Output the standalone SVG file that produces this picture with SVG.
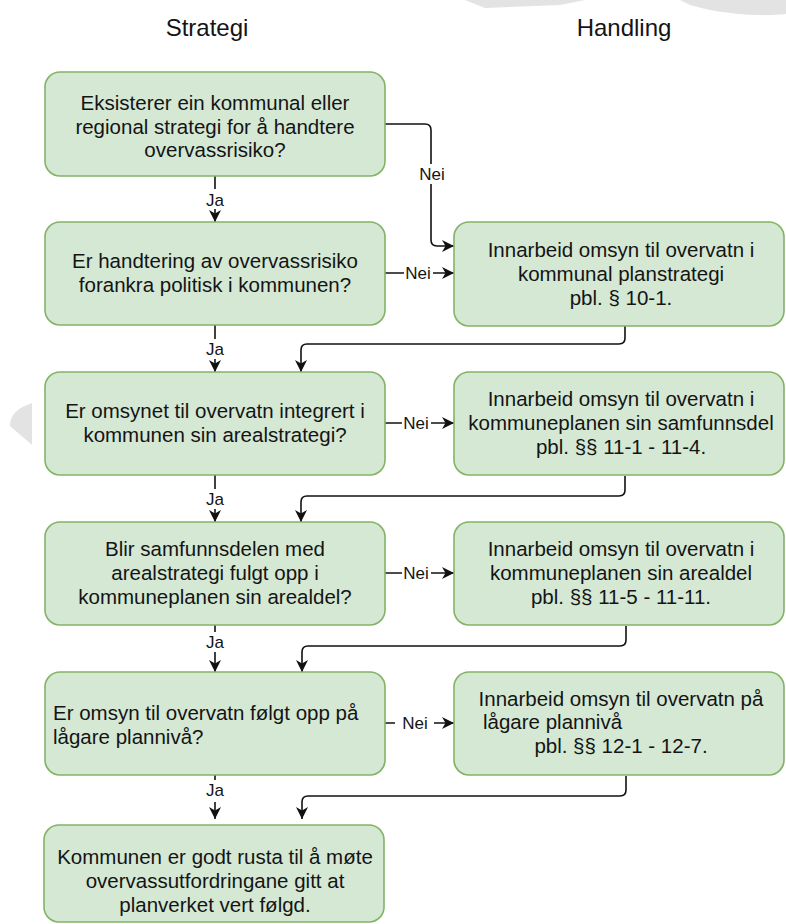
<svg xmlns="http://www.w3.org/2000/svg" width="786" height="924" viewBox="0 0 786 924">
<defs>
<style>
.box{fill:#d5e8d4;stroke:#82b366;stroke-width:1.6}
.t{font-family:"Liberation Sans",Arial,sans-serif;font-size:20.5px;fill:#141414;text-anchor:middle}
.tl{text-anchor:start}
.h{font-family:"Liberation Sans",Arial,sans-serif;font-size:24px;fill:#141414;text-anchor:middle}
.lbl{font-family:"Liberation Sans",Arial,sans-serif;font-size:17px;fill:#141414;text-anchor:middle}
.c{fill:none;stroke:#111;stroke-width:1.6;marker-end:url(#arr)}
.bg{fill:#ffffff}
.wm{fill:#e3e3e3}
</style>
<marker id="arr" markerUnits="userSpaceOnUse" markerWidth="13" markerHeight="13" refX="12" refY="6.5" orient="auto">
<path d="M0,0.5 L12,6.5 L0,12.5 L3.5,6.5 Z" fill="#111"/>
</marker>
</defs>
<rect width="786" height="924" fill="#ffffff"/>
<g id="watermark">
<path class="wm" d="M465,0 L585,0 L560,5 L485,8 Z"/>
<path class="wm" d="M680,0 L786,0 L786,14 C760,17 720,14 690,5 Z"/>
<path class="wm" d="M32,403 Q10,410 10,426 L32,445 Z"/>
</g>
<g id="headers">
<text class="h" x="207" y="36">Strategi</text>
<text class="h" x="624" y="36">Handling</text>
</g>
<g id="connectors">
<path class="c" d="M215,176 L215,222"/>
<path class="c" d="M385,124 L425,124 Q431,124 431,130 L431,240 Q431,246 437,246 L454,246"/>
<path class="c" d="M385,273 L454,273"/>
<path class="c" d="M215,325 L215,372"/>
<path class="c" d="M625,326 L625,338 Q625,344 619,344 L307,344 Q301,344 301,350 L301,372"/>
<path class="c" d="M385,423 L454,423"/>
<path class="c" d="M215,475 L215,522"/>
<path class="c" d="M625,476 L625,490 Q625,496 619,496 L307,496 Q301,496 301,502 L301,522"/>
<path class="c" d="M385,573 L454,573"/>
<path class="c" d="M215,625 L215,672"/>
<path class="c" d="M626,626 L626,640 Q626,646 620,646 L308,646 Q302,646 302,652 L302,672"/>
<path class="c" d="M385,723 L454,723"/>
<path class="c" d="M215,775 L215,819"/>
<path class="c" d="M626,776 L626,790 Q626,796 620,796 L308,796 Q302,796 302,802 L302,819"/>
<rect class="bg" x="204" y="189" width="22" height="20"/>
<text class="lbl" x="215" y="206">Ja</text>
<rect class="bg" x="417" y="164" width="30" height="20"/>
<text class="lbl" x="432" y="180">Nei</text>
<rect class="bg" x="404" y="263" width="29" height="20"/>
<text class="lbl" x="418" y="279">Nei</text>
<rect class="bg" x="204" y="339" width="22" height="20"/>
<text class="lbl" x="215" y="355">Ja</text>
<rect class="bg" x="402" y="413" width="29" height="20"/>
<text class="lbl" x="416" y="429">Nei</text>
<rect class="bg" x="204" y="489" width="22" height="20"/>
<text class="lbl" x="215" y="505">Ja</text>
<rect class="bg" x="402" y="563" width="29" height="20"/>
<text class="lbl" x="416" y="579">Nei</text>
<rect class="bg" x="204" y="632" width="22" height="20"/>
<text class="lbl" x="215" y="648">Ja</text>
<rect class="bg" x="395" y="713" width="39" height="20"/>
<text class="lbl" x="415" y="729">Nei</text>
<rect class="bg" x="204" y="780" width="22" height="22"/>
<text class="lbl" x="215" y="796">Ja</text>
</g>
<g id="n1">
<rect class="box" x="45" y="72" width="340" height="104" rx="15"/>
<text class="t" x="215" y="110">Eksisterer ein kommunal eller</text>
<text class="t" x="215" y="134">regional strategi for å handtere</text>
<text class="t" x="215" y="157">overvassrisiko?</text>
</g>
<g id="n2">
<rect class="box" x="45" y="222" width="340" height="103" rx="15"/>
<text class="t" x="215" y="268">Er handtering av overvassrisiko</text>
<text class="t" x="215" y="292">forankra politisk i kommunen?</text>
</g>
<g id="n3">
<rect class="box" x="45" y="372" width="340" height="103" rx="15"/>
<text class="t" x="215" y="418">Er omsynet til overvatn integrert i</text>
<text class="t" x="215" y="442">kommunen sin arealstrategi?</text>
</g>
<g id="n4">
<rect class="box" x="45" y="522" width="340" height="103" rx="15"/>
<text class="t" x="215" y="556">Blir samfunnsdelen med</text>
<text class="t" x="215" y="580">arealstrategi fulgt opp i</text>
<text class="t" x="215" y="604">kommuneplanen sin arealdel?</text>
</g>
<g id="n5">
<rect class="box" x="45" y="672" width="340" height="103" rx="15"/>
<text class="t tl" x="53" y="720">Er omsyn til overvatn følgt opp på</text>
<text class="t tl" x="53" y="744">lågare plannivå?</text>
</g>
<g id="n6">
<rect class="box" x="44" y="825" width="340" height="97" rx="15"/>
<text class="t" x="215" y="864">Kommunen er godt rusta til å møte</text>
<text class="t" x="215" y="888">overvassutfordringane gitt at</text>
<text class="t" x="215" y="912">planverket vert følgd.</text>
</g>
<g id="r1">
<rect class="box" x="454" y="222" width="330" height="104" rx="15"/>
<text class="t" x="621" y="257">Innarbeid omsyn til overvatn i</text>
<text class="t" x="621" y="281">kommunal planstrategi</text>
<text class="t" x="621" y="305">pbl. § 10-1.</text>
</g>
<g id="r2">
<rect class="box" x="454" y="372" width="330" height="103" rx="15"/>
<text class="t" x="621" y="406">Innarbeid omsyn til overvatn i</text>
<text class="t" x="621" y="430">kommuneplanen sin samfunnsdel</text>
<text class="t" x="621" y="454">pbl. §§ 11-1 - 11-4.</text>
</g>
<g id="r3">
<rect class="box" x="454" y="522" width="330" height="103" rx="15"/>
<text class="t" x="621" y="556">Innarbeid omsyn til overvatn i</text>
<text class="t" x="621" y="580">kommuneplanen sin arealdel</text>
<text class="t" x="621" y="604">pbl. §§ 11-5 - 11-11.</text>
</g>
<g id="r4">
<rect class="box" x="454" y="672" width="330" height="103" rx="15"/>
<text class="t" x="621" y="706">Innarbeid omsyn til overvatn på</text>
<text class="t tl" x="483" y="729">lågare plannivå</text>
<text class="t" x="621" y="753">pbl. §§ 12-1 - 12-7.</text>
</g>
</svg>
